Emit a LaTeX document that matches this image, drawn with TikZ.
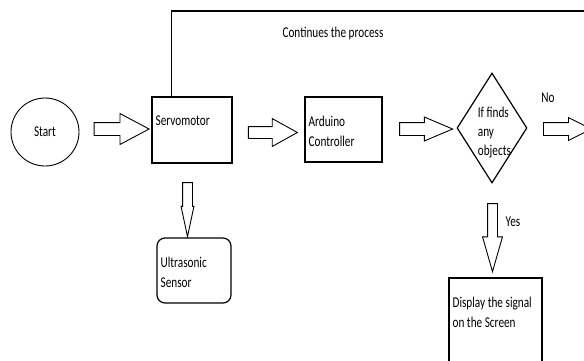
\documentclass[tikz,border=0pt]{standalone}
\usepackage{fontspec}
\newfontfamily\diagfont{Carlito}[FakeStretch=0.75]
\usetikzlibrary{shapes.geometric, shapes.arrows, positioning}

\begin{document}
\begin{tikzpicture}[
  x=1pt, y=-1pt,
  font=\diagfont\fontsize{15}{20}\selectfont,
  box/.style={
    rectangle, draw, line width=1.2pt, inner sep=0pt
  },
  inbox/.style={
    anchor=north west, inner xsep=4pt, inner ysep=19pt, align=left
  },
  dtext/.style={
    anchor=north west, inner xsep=3.5pt, inner ysep=6.5pt, align=left,
    font=\diagfont\fontsize{15}{19}\selectfont
  },
  barrow/.style={single arrow, draw, line width=0.9pt, inner xsep=0pt, minimum width=1pt},
  loop/.style={line width=1.2pt}
]
\path[use as bounding box, clip] (0,0) rectangle (584,360);

\node[circle, draw, line width=0.9pt, minimum size=68pt] (start) at (45,132) {Start};
\node[box, minimum width=80pt, minimum height=66pt,
  label={[inbox]north west:Servomotor}] (servo) at (192,130) {};
\node[box, minimum width=77pt, minimum height=65pt,
  label={[inbox]north west:Arduino\\Controller}] (arduino) at (343.5,129.5) {};
\node[diamond, draw, line width=1.2pt, minimum width=70pt, minimum height=110pt, inner sep=0pt,
  label={[dtext]north west:If finds\\any\\objects}] (check) at (492,128) {};
\node[box, rounded corners=8pt, minimum width=74pt, minimum height=65pt,
  label={[inbox]north west:Ultrasonic\\Sensor}] (sensor) at (194,270.5) {};
\node[box, minimum width=93pt, minimum height=110pt,
  label={[inbox]north west:Display the signal\\on the Screen}] (display) at (495.5,333) {};

% block arrows
\node[barrow, minimum height=55pt, inner ysep=6pt, single arrow head extend=9pt, single arrow tip angle=56] (a1) at (115.5,129) {};
\node[barrow, minimum height=49pt, inner ysep=5.5pt, single arrow head extend=8pt, single arrow tip angle=58] (a2) at (267.5,132.5) {};
\node[barrow, minimum height=53pt, inner ysep=6pt, single arrow head extend=5.5pt, single arrow tip angle=46] (a3) at (418.5,129) {};
\node[barrow, minimum height=48pt, inner ysep=6pt, single arrow head extend=5pt, single arrow tip angle=53] (a4) at (561,129) {};
\node[barrow, rotate=-90, minimum height=54pt, inner ysep=4.5pt, single arrow head extend=1.5pt, single arrow tip angle=24] (a5) at (187.5,198) {};
\node[barrow, rotate=-90, minimum height=68pt, inner ysep=4.5pt, single arrow head extend=5pt, single arrow tip angle=32] (a6) at (492.5,229) {};

\node (nolabel) at (548,98) {No};
\node (yeslabel) at (513,222) {Yes};

% loop back
\coordinate (loopend) at (586,11);
\draw[loop] ([xshift=20pt]servo.north west) |- (loopend);
\node (loopnote) at (333,33) {Continues the process};

\end{tikzpicture}
\end{document}
